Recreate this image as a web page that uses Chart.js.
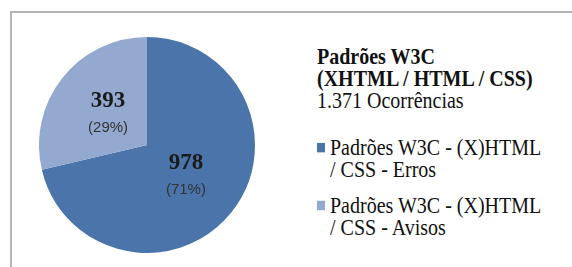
<!DOCTYPE html>
<html><head><meta charset="utf-8">
<script src="https://cdn.jsdelivr.net/npm/chart.js@4"></script>
<style>
html,body{margin:0;padding:0;background:#fff;}
body{width:572px;height:267px;position:relative;overflow:hidden;}
#frame{position:absolute;left:10px;top:11px;width:600px;height:300px;border-left:2px solid #b4b4b4;border-top:2px solid #b4b4b4;}
#wrap{position:absolute;left:39px;top:37px;width:216px;height:216px;}
#side{position:absolute;left:317px;top:45px;font-family:"Liberation Serif","DejaVu Serif",serif;color:#111;font-size:20px;line-height:18.6px;transform:scale(1,1.18);transform-origin:0 0;white-space:nowrap;}
#side .t{font-weight:bold;}
.item{position:relative;padding-left:13px;line-height:19.5px;}
.item .sq{position:absolute;left:0;top:6.4px;width:8px;height:7.6px;}
</style></head><body>
<div id="frame"></div>
<div id="wrap"><canvas id="c"></canvas></div>
<div id="side"></div>
<script>
const titleLines = ["Padrões W3C", "(XHTML / HTML / CSS)"];
const subtitle = "1.371 Ocorrências";
const categories = ["Padrões W3C - (X)HTML / CSS - Erros", "Padrões W3C - (X)HTML / CSS - Avisos"];
const legendLines = [["Padrões W3C - (X)HTML", "/ CSS - Erros"], ["Padrões W3C - (X)HTML", "/ CSS - Avisos"]];
const values = [978, 393];
const percentLabels = ["(71%)", "(29%)"];
const colors = ["#4a74aa", "#94a9cf"];

// side panel (title + legend)
const side = document.getElementById('side');
titleLines.forEach(t => { const d = document.createElement('div'); d.className = 't'; d.textContent = t; side.appendChild(d); });
const st = document.createElement('div'); st.textContent = subtitle; side.appendChild(st);
legendLines.forEach((lines, i) => {
  const it = document.createElement('div'); it.className = 'item';
  it.style.marginTop = i === 0 ? '20.9px' : '10.2px';
  const sq = document.createElement('span'); sq.className = 'sq'; sq.style.background = colors[i]; it.appendChild(sq);
  lines.forEach(l => { const d = document.createElement('div'); d.textContent = l; it.appendChild(d); });
  side.appendChild(it);
});

const labelPlugin = {
  id: 'sliceLabels',
  afterDatasetsDraw(chart) {
    const ctx = chart.ctx;
    const meta = chart.getDatasetMeta(0);
    meta.data.forEach((arc, i) => {
      const p = arc.getProps(['x','y','startAngle','endAngle','outerRadius'], true);
      const mid = (p.startAngle + p.endAngle) / 2;
      const r = p.outerRadius * 0.46;
      const cx = p.x + Math.cos(mid) * r;
      const cy = p.y + Math.sin(mid) * r;
      ctx.save();
      ctx.textAlign = 'center';
      ctx.textBaseline = 'middle';
      ctx.fillStyle = '#1a1a1a';
      ctx.font = 'bold 23px "Liberation Serif", serif';
      ctx.fillText(String(values[i]), cx, cy - 13);
      ctx.fillStyle = '#333';
      ctx.font = '15px "Liberation Sans", Arial, sans-serif';
      ctx.fillText(percentLabels[i], cx, cy + 14);
      ctx.restore();
    });
  }
};

new Chart(document.getElementById('c'), {
  type: 'pie',
  data: { labels: categories, datasets: [{ data: values, backgroundColor: colors, borderWidth: 0 }] },
  options: {
    responsive: true, maintainAspectRatio: false, animation: false,
    layout: { padding: 0 },
    plugins: { legend: { display: false }, tooltip: { enabled: false } }
  },
  plugins: [labelPlugin]
});
</script>
</body></html>
